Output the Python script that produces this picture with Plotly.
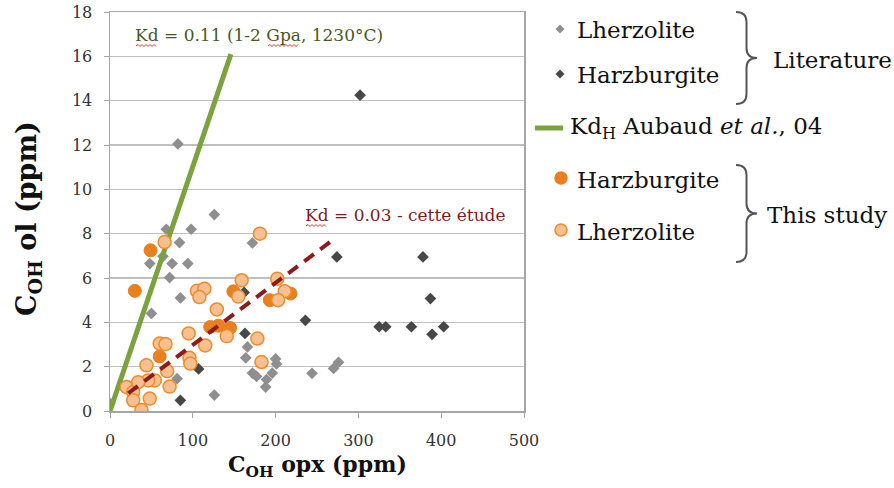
import plotly.graph_objects as go

# ---------------- data ----------------
lit_lherz_x = [0, 82, 126, 68, 98, 84, 172, 48, 64, 75, 94, 72, 85, 50, 166, 164, 200, 201,
               172, 177, 196, 189, 188, 126, 81, 244, 270, 276]
lit_lherz_y = [0.35, 12.05, 8.86, 8.2, 8.2, 7.6, 7.58, 6.65, 6.98, 6.65, 6.65, 6.02, 5.1, 4.4,
               2.89, 2.4, 2.35, 2.12, 1.71, 1.56, 1.71, 1.42, 1.08, 0.72, 1.46, 1.7, 1.92, 2.2]

lit_harz_x = [302, 274, 378, 387, 236, 325, 333, 364, 389, 403, 163, 107, 85, 162]
lit_harz_y = [14.25, 6.95, 6.95, 5.07, 4.09, 3.8, 3.8, 3.8, 3.46, 3.8, 3.5, 1.9, 0.48, 5.35]

study_harz_x = [49, 30, 149, 193, 218, 121, 145, 60, 131]
study_harz_y = [7.25, 5.42, 5.4, 5.0, 5.3, 3.79, 3.75, 2.46, 3.85]

study_lherz_x = [181, 66, 105, 114, 108, 159, 155, 202, 211, 203, 129, 141, 178, 95, 115,
                 60, 67, 96, 97, 183, 44, 69, 54, 72, 20, 28, 48, 28, 38, 46, 34]
study_lherz_y = [8.0, 7.62, 5.42, 5.52, 5.14, 5.9, 5.16, 5.97, 5.4, 5.0, 4.58, 3.38, 3.27, 3.5,
                 2.96, 3.04, 3.02, 2.4, 2.14, 2.21, 2.06, 1.8, 1.38, 1.1, 1.08, 0.86, 0.56,
                 0.48, 0.05, 1.38, 1.3]

kd_aubaud_x = [0, 146]
kd_aubaud_y = [0, 16.1]
kd_study_x = [22, 272]
kd_study_y = [0.8, 7.8]

x_ticks = [0, 100, 200, 300, 400, 500]
y_ticks = [0, 2, 4, 6, 8, 10, 12, 14, 16, 18]

# ---------------- layout helpers ----------------
# page body margin is removed (post_script below), so figure pixels == screen pixels
W, H = 894, 488
PLOT_LEFT, PLOT_RIGHT, PLOT_TOP, PLOT_BOTTOM = 110, 524, 12, 411
ML, MR, MT, MB = PLOT_LEFT, 0, PLOT_TOP, H - PLOT_BOTTOM
PW = W - ML - MR
PH = PLOT_BOTTOM - PLOT_TOP


def fx(p):
    return (p - PLOT_LEFT) / PW


def fy(q):
    return (PLOT_BOTTOM - q) / PH


SERIF = "DejaVu Serif"
LIGHT_GRAY = "#8F8F8F"
DARK_GRAY = "#474747"
GREEN = "#7BA23F"
ORANGE = "#E8801F"
PEACH = "#F9C08F"
PEACH_LINE = "#EE8A2C"
DARK_RED = "#8B1C1C"

fig = go.Figure()

fig.add_trace(go.Scatter(x=lit_lherz_x, y=lit_lherz_y, mode="markers",
                         marker=dict(symbol="diamond", size=9, color=LIGHT_GRAY),
                         showlegend=False))
fig.add_trace(go.Scatter(x=lit_harz_x, y=lit_harz_y, mode="markers",
                         marker=dict(symbol="diamond", size=9, color=DARK_GRAY),
                         showlegend=False))
fig.add_trace(go.Scatter(x=kd_aubaud_x, y=kd_aubaud_y, mode="lines",
                         line=dict(color=GREEN, width=5), showlegend=False))
fig.add_trace(go.Scatter(x=study_harz_x, y=study_harz_y, mode="markers",
                         marker=dict(symbol="circle", size=13, color=ORANGE,
                                     line=dict(color=ORANGE, width=1)),
                         showlegend=False))
fig.add_trace(go.Scatter(x=study_lherz_x, y=study_lherz_y, mode="markers",
                         marker=dict(symbol="circle", size=13, color=PEACH,
                                     line=dict(color=PEACH_LINE, width=1.5)),
                         showlegend=False))
fig.add_trace(go.Scatter(x=kd_study_x, y=kd_study_y, mode="lines",
                         line=dict(color=DARK_RED, width=4, dash="12px,8px"),
                         showlegend=False))

axis_common = dict(showline=True, linecolor="#A6A6A6", linewidth=1.5, mirror=True,
                   ticks="outside", tickcolor="#A6A6A6", ticklen=5, zeroline=False,
                   ticklabeloverflow="allow", automargin=False,
                   tickfont=dict(family=SERIF, size=16, color="#333333"))

fig.update_layout(
    template="none",
    width=W, height=H,
    margin=dict(l=ML, r=MR, t=MT, b=MB, autoexpand=False),
    paper_bgcolor="white", plot_bgcolor="white",
    xaxis=dict(range=[0, 500], tickvals=x_ticks, showgrid=False,
               domain=[0, fx(PLOT_RIGHT)], ticklabelstandoff=9, **axis_common),
    yaxis=dict(range=[0, 18], tickvals=y_ticks, showgrid=True, gridcolor="#C0C0C0",
               gridwidth=1.5, ticklabelstandoff=8, **axis_common),
    showlegend=False,
)

ann = []


def label(text, x, y, size, color="#111111", xanchor="left", angle=0):
    ann.append(dict(text=text, x=fx(x), y=fy(y), xref="paper", yref="paper",
                    xanchor=xanchor, yanchor="middle", showarrow=False, textangle=angle,
                    font=dict(family=SERIF, size=size, color=color)))


# axis titles
label("<b>C<sub>OH</sub> opx (ppm)</b>", 317, 466, 22, xanchor="center")
label("<b>C<sub>OH</sub> ol (ppm)</b>", 28, 219, 27, xanchor="center", angle=-90)
# in-plot labels
label("Kd = 0.11 (1-2 Gpa, 1230°C)", 133, 35, 17, color="#46591F")
label("Kd = 0.03 - cette étude", 303, 215, 17, color="#7A1F1F")

LEG = 23
label("Lherzolite", 575, 30, LEG)
label("Harzburgite", 575, 75, LEG)
label("Kd<sub>H</sub> Aubaud <i>et al.</i>, 04", 568, 128, LEG)
label("Harzburgite", 575, 180, LEG)
label("Lherzolite", 575, 232, LEG)
label("Literature", 771, 60, LEG)
label("This study", 765, 215, LEG)

shapes = []


def diamond(cx, cy, r, color):
    p = f"M {fx(cx)},{fy(cy - r)} L {fx(cx + r)},{fy(cy)} L {fx(cx)},{fy(cy + r)} L {fx(cx - r)},{fy(cy)} Z"
    return dict(type="path", path=p, xref="paper", yref="paper", fillcolor=color, line=dict(width=0))


def circle(cx, cy, r, fill, edge):
    return dict(type="circle", xref="paper", yref="paper", x0=fx(cx - r), x1=fx(cx + r),
                y0=fy(cy + r), y1=fy(cy - r), fillcolor=fill, line=dict(color=edge, width=1.5))


def brace(x0, ytop, ybot, w):
    xm = x0 + w / 2
    xt = x0 + w
    ym = (ytop + ybot) / 2
    r = 10
    pts = [
        f"M {fx(x0)},{fy(ytop)}",
        f"Q {fx(xm)},{fy(ytop)} {fx(xm)},{fy(ytop + r)}",
        f"L {fx(xm)},{fy(ym - r)}",
        f"Q {fx(xm)},{fy(ym)} {fx(xt)},{fy(ym)}",
        f"Q {fx(xm)},{fy(ym)} {fx(xm)},{fy(ym + r)}",
        f"L {fx(xm)},{fy(ybot - r)}",
        f"Q {fx(xm)},{fy(ybot)} {fx(x0)},{fy(ybot)}",
    ]
    return dict(type="path", path=" ".join(pts), xref="paper", yref="paper",
                line=dict(color="#555555", width=2))


def squiggle(x0, x1, y):
    # spell-check style wavy underline
    pts = [f"M {fx(x0)},{fy(y)}"]
    x = x0
    up = True
    while x + 2 <= x1:
        x += 2
        pts.append(f"L {fx(x)},{fy(y - 1.5 if up else y + 0.5)}")
        up = not up
    return dict(type="path", path=" ".join(pts), xref="paper", yref="paper",
                line=dict(color="#E03030", width=1))


shapes.append(diamond(560, 29, 4.5, LIGHT_GRAY))
shapes.append(diamond(560, 74, 4.5, DARK_GRAY))
shapes.append(dict(type="line", xref="paper", yref="paper", x0=fx(535), x1=fx(563),
                   y0=fy(128), y1=fy(128), line=dict(color=GREEN, width=5)))
shapes.append(circle(561, 178, 6, ORANGE, ORANGE))
shapes.append(circle(561, 230, 6, PEACH, PEACH_LINE))
shapes.append(brace(736, 12, 104, 21))
shapes.append(brace(736, 165, 262, 21))
shapes.append(squiggle(136, 156, 46))
shapes.append(squiggle(268, 298, 46))
shapes.append(squiggle(306, 326, 226))

fig.update_layout(annotations=ann, shapes=shapes)

fig.write_html("out.html",
               config={"displayModeBar": False, "staticPlot": True},
               post_script="document.body.style.margin='0';document.body.style.overflow='hidden';")
